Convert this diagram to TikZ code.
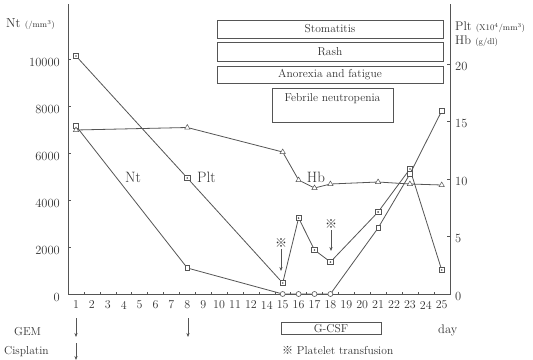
\documentclass[tikz,border=0pt]{standalone}
\usepackage{fontspec}
\newfontfamily\cjk{Noto Sans CJK JP}
\usetikzlibrary{arrows.meta,shapes.geometric}
\definecolor{ln}{HTML}{555555}
\definecolor{tx}{HTML}{333333}
\begin{document}
\begin{tikzpicture}[x=1pt,y=-1pt,
  every node/.style={text=tx},
  ax/.style={draw=ln,line width=0.8pt},
  ser/.style={draw=ln,line width=0.8pt},
  pltm/.style={rectangle,draw=ln,fill=white,line width=0.6pt,minimum size=5.5pt,inner sep=0pt,
    path picture={\fill[ln] (path picture bounding box.center) circle (0.9pt);}},
  ntm/.style={rectangle,draw=ln,fill=white,line width=0.6pt,minimum size=4.5pt,inner sep=0pt},
  ntc/.style={circle,draw=ln,fill=white,line width=0.6pt,minimum size=5pt,inner sep=0pt},
  hbm/.style={regular polygon,regular polygon sides=3,draw=ln,fill=white,line width=0.5pt,minimum size=6pt,inner sep=0pt},
  evbox/.style={draw=ln,line width=0.7pt,minimum width=226pt,inner sep=0pt,font=\fontsize{11.5}{12}\selectfont},
  num/.style={font=\fontsize{12.5}{13}\selectfont,inner sep=1pt},
  daylab/.style={font=\fontsize{12}{12}\selectfont,inner sep=0pt},
  serlab/.style={font=\fontsize{15}{15}\selectfont,inner sep=0pt},
  side/.style={font=\fontsize{11.5}{12}\selectfont,inner sep=0pt,anchor=west},
  dose/.style={ln,line width=0.8pt,-{Stealth[length=4pt,width=3.2pt]}},
  trmark/.style={font=\cjk\fontsize{12}{12}\selectfont,inner sep=0pt,text=tx}
]
\useasboundingbox[fill=white] (0,0) rectangle (533,359);

% axes
\coordinate (lt) at (68,4);
\coordinate (o) at (68,294);
\coordinate (ro) at (450,294);
\coordinate (rt) at (450,4);
\draw[ax] (lt) -- (o) -- (ro) -- (rt);

% left ticks and labels
\foreach \v [count=\k from 0] in {0,2000,4000,6000,8000,10000}{
  \draw[ax,line width=0.5pt] (68,{294-47*\k}) -- (71,{294-47*\k});
  \node[num,anchor=east] (ly\k) at (61,{297-47*\k}) {\v};
}
% right ticks and labels
\foreach \v [count=\k from 0] in {0,5,10,15,20}{
  \draw[ax,line width=0.5pt] (450,{294-57.5*\k}) -- (447,{294-57.5*\k});
  \node[num,anchor=west] (ry\k) at (454,{296-57.5*\k}) {\v};
}
% x ticks and day labels
\foreach \i in {0,...,22}{
  \draw[ax,line width=0.5pt] ({83.95+15.9*\i},294) -- ({83.95+15.9*\i},291.5);
}
\foreach \d [count=\i from 0] in {1,...,12,14,15,16,17,18,19,20,21,22,23,24,25}{
  \node[daylab] (d\d) at ({76+15.9*\i},305) {\d};
}

% axis titles
\node[anchor=west,inner sep=0pt] (ntt) at (6,24) {\fontsize{13}{13}\selectfont Nt \fontsize{8.5}{9}\selectfont(/mm$^{3}$)};
\node[anchor=west,inner sep=0pt] (pltt) at (455,27) {\fontsize{12.5}{13}\selectfont Plt \fontsize{8.5}{9}\selectfont(X10$^{4}$/mm$^{3}$)};
\node[anchor=west,inner sep=0pt] (hbt) at (455,41) {\fontsize{12.5}{13}\selectfont Hb \fontsize{8.5}{9}\selectfont(g/dl)};

% event boxes
\node[evbox,minimum height=18pt] (stom) at (330,29) {Stomatitis};
\node[evbox,minimum height=19pt] (rash) at (330,51.5) {Rash};
\node[evbox,minimum height=17pt] (anor) at (330,74.5) {Anorexia and fatigue};
\node[draw=ln,line width=0.7pt,minimum width=121pt,inner xsep=0pt,inner ysep=3pt,
  text height=10pt,text depth=18pt,font=\fontsize{11.5}{12}\selectfont] (febr) at (332.5,105) {Febrile neutropenia};

% Plt series
\node[pltm] (p1) at (76,56) {};
\node[pltm] (p8) at (187.3,178) {};
\node[pltm] (p15) at (282.7,283) {};
\node[pltm] (p16) at (298.6,218) {};
\node[pltm] (p17) at (314.5,250) {};
\node[pltm] (p18) at (330.4,262) {};
\node[pltm] (p21) at (378.1,212) {};
\node[pltm] (p23) at (409.9,169) {};
\node[pltm] (p25) at (441.7,270) {};
\draw[ser] (p1) -- (p8) -- (p15) -- (p16) -- (p17) -- (p18) -- (p21) -- (p23) -- (p25);

% Nt series
\node[ntm] (n1) at (76,126) {};
\node[ntm] (n8) at (187.3,268) {};
\node[ntc] (n15) at (282.7,294) {};
\node[ntc] (n16) at (298.6,294) {};
\node[ntc] (n17) at (314.5,294) {};
\node[ntc] (n18) at (330.4,294) {};
\node[ntm] (n21) at (378.1,228) {};
\node[ntm] (n23) at (409.9,174) {};
\node[ntm] (n25) at (441.7,111) {};
\draw[ser] (n1) -- (n8) -- (n15) -- (n16) -- (n17) -- (n18) -- (n21) -- (n23) -- (n25);

% Hb series
\node[hbm] (h1) at (76,130) {};
\node[hbm] (h8) at (187.3,127.5) {};
\node[hbm] (h15) at (282.7,152) {};
\node[hbm] (h16) at (298.6,180) {};
\node[hbm] (h17) at (314.5,188) {};
\node[hbm] (h18) at (330.4,184) {};
\node[hbm] (h21) at (378.1,182) {};
\node[hbm] (h23) at (409.9,184) {};
\node[hbm] (h25) at (441.7,185) {};
\draw[ser] (h1) -- (h8) -- (h15) -- (h16) -- (h17) -- (h18) -- (h21) -- (h23) -- (h25);

% series labels
\node[serlab] (ntl) at (133,177) {Nt};
\node[serlab,anchor=west] (pltl) at (197,177) {Plt};
\node[serlab] (hbl) at (316,177) {Hb};

% platelet transfusion marks
\node[trmark] (tr15) at (281,243) {※};
\coordinate (tr15e) at (281,271);
\draw[dose] (tr15.south) ++(0,1.5) -- (tr15e);
\node[trmark] (tr18) at (331,224) {※};
\coordinate (tr18e) at (331,251);
\draw[dose] (tr18.south) ++(0,1.5) -- (tr18e);

% drugs
\node[side] (gem) at (14,332) {GEM};
\node[side] (cis) at (4,352) {Cisplatin};
\coordinate (g1s) at (76,318);
\coordinate (g1e) at (76,337);
\coordinate (g8s) at (188,318);
\coordinate (g8e) at (188,337);
\coordinate (c1s) at (76,343);
\coordinate (c1e) at (76,360);
\draw[dose] (g1s) -- (g1e);
\draw[dose] (g8s) -- (g8e);
\draw[dose] (c1s) -- (c1e);

% G-CSF and legend
\node[draw=ln,line width=0.7pt,minimum width=100pt,minimum height=12pt,inner sep=0pt,
  font=\fontsize{11.5}{12}\selectfont] (gcsf) at (331,328.5) {G-CSF};
\node[side,font=\fontsize{12.5}{13}\selectfont] (day) at (438,330) {day};
\node[side] (legend) at (282,350) {{\cjk\fontsize{11}{11}\selectfont ※} Platelet transfusion};
\end{tikzpicture}
\end{document}
